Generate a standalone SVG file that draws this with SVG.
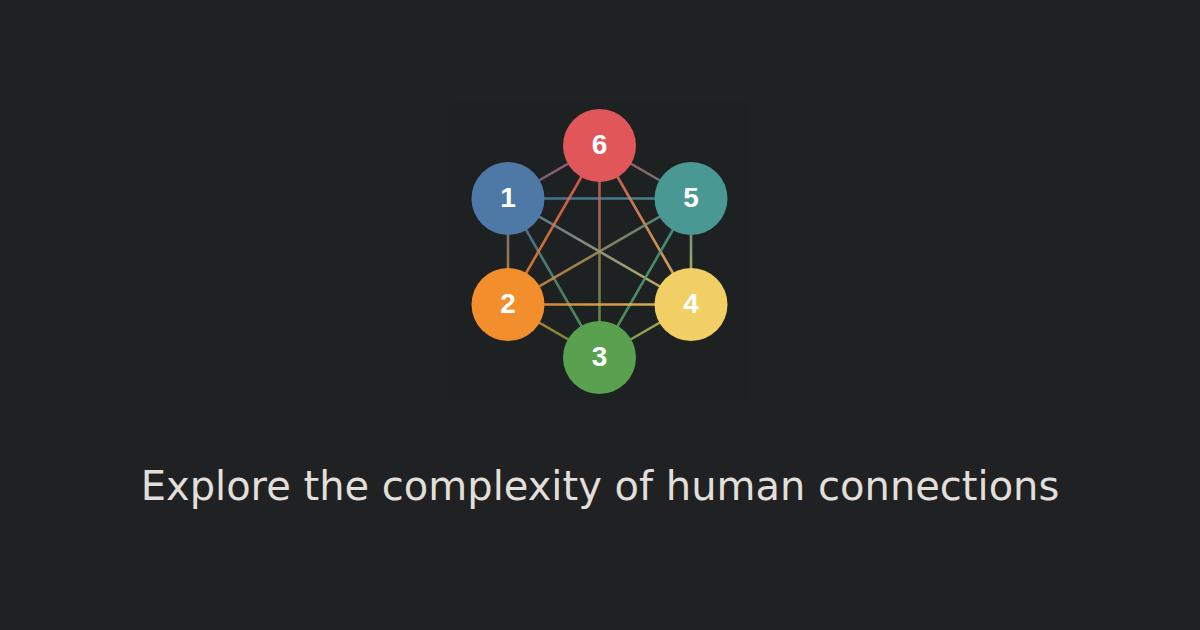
<svg xmlns="http://www.w3.org/2000/svg" width="1200" height="630" viewBox="0 0 1200 630">
<style>
.edge{stroke-width:2.6;fill:none;stroke-opacity:0.85}
.node circle{stroke:none}
.node text{font-family:"Liberation Sans",Arial,sans-serif;font-weight:bold;font-size:28px;fill:#ffffff;text-anchor:middle;dominant-baseline:central}
.title{font-family:"DejaVu Sans",sans-serif;font-size:40px;fill:#e2dfda;text-anchor:middle}
</style>
<defs>
<linearGradient id="g16" gradientUnits="userSpaceOnUse" x1="508" y1="198.5" x2="599.5" y2="145.5"><stop offset="0" stop-color="#4e79a7"/><stop offset="1" stop-color="#e15759"/></linearGradient>
<linearGradient id="g15" gradientUnits="userSpaceOnUse" x1="508" y1="198.5" x2="691" y2="198.5"><stop offset="0" stop-color="#4e79a7"/><stop offset="1" stop-color="#499894"/></linearGradient>
<linearGradient id="g12" gradientUnits="userSpaceOnUse" x1="508" y1="198.5" x2="508" y2="304.5"><stop offset="0" stop-color="#4e79a7"/><stop offset="1" stop-color="#f28e2b"/></linearGradient>
<linearGradient id="g13" gradientUnits="userSpaceOnUse" x1="508" y1="198.5" x2="599.5" y2="357.5"><stop offset="0" stop-color="#4e79a7"/><stop offset="1" stop-color="#59a14f"/></linearGradient>
<linearGradient id="g14" gradientUnits="userSpaceOnUse" x1="508" y1="198.5" x2="691" y2="304.5"><stop offset="0" stop-color="#4e79a7"/><stop offset="1" stop-color="#f2cf64"/></linearGradient>
<linearGradient id="g65" gradientUnits="userSpaceOnUse" x1="599.5" y1="145.5" x2="691" y2="198.5"><stop offset="0" stop-color="#e15759"/><stop offset="1" stop-color="#499894"/></linearGradient>
<linearGradient id="g62" gradientUnits="userSpaceOnUse" x1="599.5" y1="145.5" x2="508" y2="304.5"><stop offset="0" stop-color="#e15759"/><stop offset="1" stop-color="#f28e2b"/></linearGradient>
<linearGradient id="g63" gradientUnits="userSpaceOnUse" x1="599.5" y1="145.5" x2="599.5" y2="357.5"><stop offset="0" stop-color="#e15759"/><stop offset="1" stop-color="#59a14f"/></linearGradient>
<linearGradient id="g64" gradientUnits="userSpaceOnUse" x1="599.5" y1="145.5" x2="691" y2="304.5"><stop offset="0" stop-color="#e15759"/><stop offset="1" stop-color="#f2cf64"/></linearGradient>
<linearGradient id="g52" gradientUnits="userSpaceOnUse" x1="691" y1="198.5" x2="508" y2="304.5"><stop offset="0" stop-color="#499894"/><stop offset="1" stop-color="#f28e2b"/></linearGradient>
<linearGradient id="g53" gradientUnits="userSpaceOnUse" x1="691" y1="198.5" x2="599.5" y2="357.5"><stop offset="0" stop-color="#499894"/><stop offset="1" stop-color="#59a14f"/></linearGradient>
<linearGradient id="g54" gradientUnits="userSpaceOnUse" x1="691" y1="198.5" x2="691" y2="304.5"><stop offset="0" stop-color="#499894"/><stop offset="1" stop-color="#f2cf64"/></linearGradient>
<linearGradient id="g23" gradientUnits="userSpaceOnUse" x1="508" y1="304.5" x2="599.5" y2="357.5"><stop offset="0" stop-color="#f28e2b"/><stop offset="1" stop-color="#59a14f"/></linearGradient>
<linearGradient id="g24" gradientUnits="userSpaceOnUse" x1="508" y1="304.5" x2="691" y2="304.5"><stop offset="0" stop-color="#f28e2b"/><stop offset="1" stop-color="#f2cf64"/></linearGradient>
<linearGradient id="g34" gradientUnits="userSpaceOnUse" x1="599.5" y1="357.5" x2="691" y2="304.5"><stop offset="0" stop-color="#59a14f"/><stop offset="1" stop-color="#f2cf64"/></linearGradient>
</defs>
<rect width="1200" height="630" fill="#202122"/>
<rect x="449" y="101" width="300" height="301" fill="#1e2122"/>
<g id="connectors">
<line class="edge" stroke="url(#g16)" x1="508" y1="198.5" x2="599.5" y2="145.5"/>
<line class="edge" stroke="url(#g15)" x1="508" y1="198.5" x2="691" y2="198.5"/>
<line class="edge" stroke="url(#g12)" x1="508" y1="198.5" x2="508" y2="304.5"/>
<line class="edge" stroke="url(#g13)" x1="508" y1="198.5" x2="599.5" y2="357.5"/>
<line class="edge" stroke="url(#g14)" x1="508" y1="198.5" x2="691" y2="304.5"/>
<line class="edge" stroke="url(#g65)" x1="599.5" y1="145.5" x2="691" y2="198.5"/>
<line class="edge" stroke="url(#g62)" x1="599.5" y1="145.5" x2="508" y2="304.5"/>
<line class="edge" stroke="url(#g63)" x1="599.5" y1="145.5" x2="599.5" y2="357.5"/>
<line class="edge" stroke="url(#g64)" x1="599.5" y1="145.5" x2="691" y2="304.5"/>
<line class="edge" stroke="url(#g52)" x1="691" y1="198.5" x2="508" y2="304.5"/>
<line class="edge" stroke="url(#g53)" x1="691" y1="198.5" x2="599.5" y2="357.5"/>
<line class="edge" stroke="url(#g54)" x1="691" y1="198.5" x2="691" y2="304.5"/>
<line class="edge" stroke="url(#g23)" x1="508" y1="304.5" x2="599.5" y2="357.5"/>
<line class="edge" stroke="url(#g24)" x1="508" y1="304.5" x2="691" y2="304.5"/>
<line class="edge" stroke="url(#g34)" x1="599.5" y1="357.5" x2="691" y2="304.5"/>
</g>
<g id="node6" class="node"><circle cx="599.5" cy="145.5" r="36.5" fill="#e15759"/><text x="599.5" y="144.5">6</text></g>
<g id="node1" class="node"><circle cx="508" cy="198.5" r="36.5" fill="#4e79a7"/><text x="508" y="197.5">1</text></g>
<g id="node5" class="node"><circle cx="691" cy="198.5" r="36.5" fill="#499894"/><text x="691" y="197.5">5</text></g>
<g id="node2" class="node"><circle cx="508" cy="304.5" r="36.5" fill="#f28e2b"/><text x="508" y="303.5">2</text></g>
<g id="node4" class="node"><circle cx="691" cy="304.5" r="36.5" fill="#f2cf64"/><text x="691" y="303.5">4</text></g>
<g id="node3" class="node"><circle cx="599.5" cy="357.5" r="36.5" fill="#59a14f"/><text x="599.5" y="356.5">3</text></g>
<text class="title" x="600" y="500">Explore the complexity of human connections</text>
</svg>
